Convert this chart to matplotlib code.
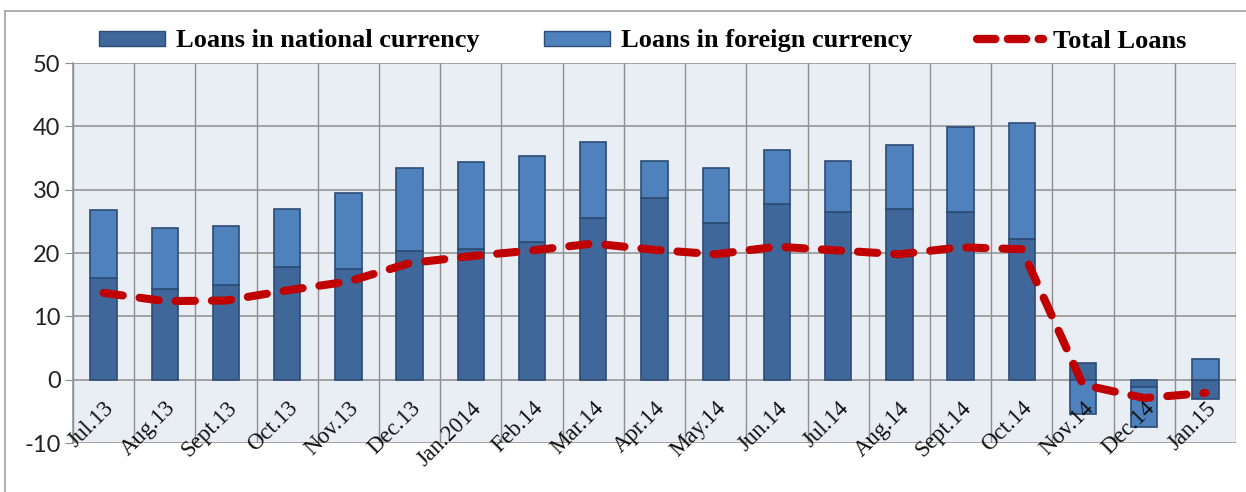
import matplotlib
matplotlib.use("Agg")
import matplotlib.pyplot as plt
import matplotlib.transforms as mtransforms
from matplotlib.patches import Patch
from matplotlib.lines import Line2D
import numpy as np

categories = ['Jul.13', 'Aug.13', 'Sept.13', 'Oct.13', 'Nov.13', 'Dec.13', 'Jan.2014',
              'Feb.14', 'Mar.14', 'Apr.14', 'May.14', 'Jun.14', 'Jul.14', 'Aug.14',
              'Sept.14', 'Oct.14', 'Nov.14', 'Dec.14', 'Jan.15']
national = [16.1, 14.3, 14.9, 17.8, 17.4, 20.3, 20.7, 21.8, 25.6, 28.7, 24.7, 27.8,
            26.5, 27.0, 26.4, 22.2, 2.6, -1.2, -3.0]
foreign = [10.7, 9.6, 9.3, 9.2, 12.1, 13.2, 13.6, 13.5, 11.9, 5.9, 8.8, 8.4,
           8.1, 10.0, 13.5, 18.4, -5.5, -6.2, 3.2]
total = [13.7, 12.4, 12.5, 14.1, 15.5, 18.4, 19.5, 20.4, 21.5, 20.5, 19.8, 21.0,
         20.4, 19.8, 20.9, 20.6, -0.8, -2.9, -2.1]
yticks = [-10, 0, 10, 20, 30, 40, 50]

DARK = '#3F679A'
LIGHT = '#4F81BD'
EDGE = '#2B4C75'
RED = '#C00000'
GRID = '#8E8E8E'

W, H = 1246, 492
fig = plt.figure(figsize=(W / 100, H / 100), dpi=100)
fig.patch.set_facecolor('white')

ax = fig.add_axes([73 / W, 1 - 443 / H, (1236 - 73) / W, (443 - 63) / H])
ax.set_facecolor('#E9EDF4')

x = np.arange(len(categories))
nat = np.array(national)
fx = np.array(foreign)
# Excel-style stacking: positives on positives, negatives on negatives
fbottom = np.where(np.sign(fx) == np.sign(nat), nat, 0.0)

bw = 0.43
ax.bar(x, nat, width=bw, color=DARK, edgecolor=EDGE, linewidth=1.2, zorder=3)
ax.bar(x, fx, bottom=fbottom, width=bw, color=LIGHT, edgecolor=EDGE, linewidth=1.2, zorder=3)

line, = ax.plot(x, total, color=RED, linewidth=5.8, solid_capstyle='round',
                dash_capstyle='round', zorder=4)
line.set_dashes((2.4, 2.1))

ax.set_xlim(-0.5, len(categories) - 0.5)
ax.set_ylim(-10, 50)

# gridlines
for yv in yticks:
    ax.axhline(yv, color=GRID, linewidth=1.1, zorder=1)
for xv in np.arange(-0.5, len(categories), 1.0):
    ax.axvline(xv, color=GRID, linewidth=1.0, zorder=1)

for s in ['top', 'right', 'bottom']:
    ax.spines[s].set_visible(False)
ax.spines['left'].set_color(GRID)
ax.spines['left'].set_linewidth(1.1)

ax.set_yticks(yticks)
ax.set_yticklabels([str(v) for v in yticks], fontfamily='Lato', fontsize=17, color='#222222')
ax.tick_params(axis='y', length=6, color=GRID, pad=3)

ax.set_xticks([])
offset = mtransforms.ScaledTranslation(0 / 100, -18 / 100, fig.dpi_scale_trans)
for i, c in enumerate(categories):
    ax.text(i, 0, c, transform=ax.transData + offset, rotation=45,
            rotation_mode='anchor', ha='right', va='top',
            fontfamily='Liberation Serif', fontsize=16.5, color='#111111', zorder=5)

# outer chart border (top and left visible)
fig.add_artist(Line2D([5 / W, 1.0], [1 - 11 / H, 1 - 11 / H], color='#A0A0A0', linewidth=1.2))
fig.add_artist(Line2D([5 / W, 5 / W], [0, 1 - 11 / H], color='#A0A0A0', linewidth=1.2))

handles = [Patch(facecolor=DARK, edgecolor=EDGE, linewidth=1.0),
           Patch(facecolor=LIGHT, edgecolor=EDGE, linewidth=1.0),
           Line2D([0], [0], color=RED, linewidth=6, dashes=(2.2, 1.5), dash_capstyle='round')]
labels = ['Loans in national currency', 'Loans in foreign currency', 'Total Loans']
fig.legend(handles, labels, loc='center', bbox_to_anchor=(643 / W, 1 - 41 / H),
           ncol=3, frameon=False, handlelength=2.5, handleheight=0.5,
           handletextpad=0.4, columnspacing=2.45,
           prop={'family': 'Liberation Serif', 'weight': 'bold', 'size': 19})

fig.savefig('out.png', dpi=100, facecolor='white')
